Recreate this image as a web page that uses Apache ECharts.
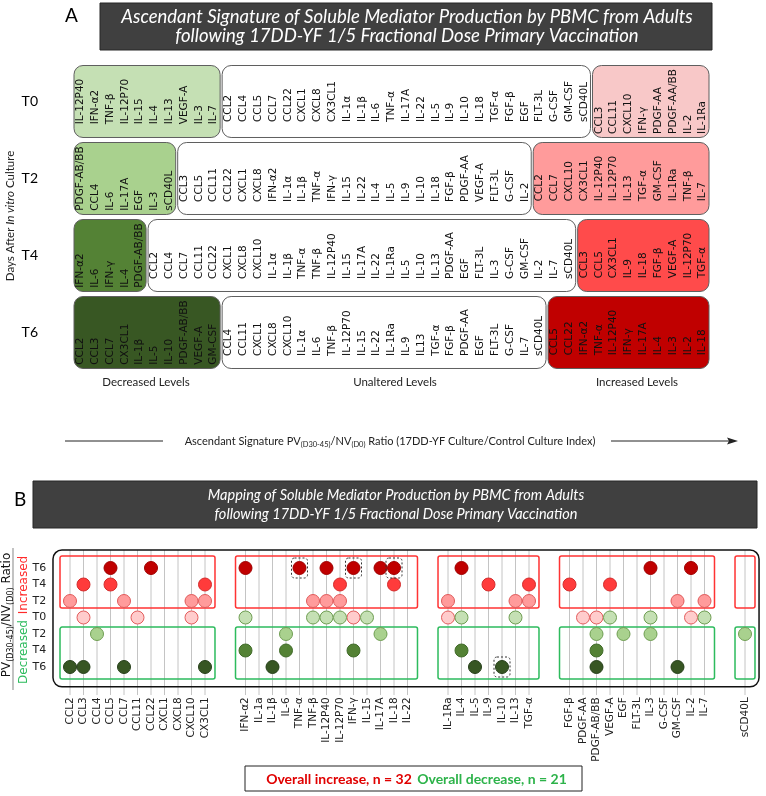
<!DOCTYPE html>
<html><head><meta charset="utf-8">
<script src="https://cdn.jsdelivr.net/npm/echarts@6/dist/echarts.min.js"></script>
<style>html,body{margin:0;padding:0;background:#fff}#c{width:766px;height:796px}</style>
</head><body><div id="c"></div>
<script>
// ---------------- Panel A data ----------------
const rowsA = ['T0', 'T2', 'T4', 'T6'];
const t0Decreased = ['IL-12P40','IFN-α2','TNF-β','IL-12P70','IL-15','IL-4','IL-13','VEGF-A','IL-3','IL-7'];
const t0Unaltered = ['CCL2','CCL4','CCL5','CCL7','CCL22','CXCL1','CXCL8','CX3CL1','IL-1α','IL-1β','IL-6','TNF-α','IL-17A','IL-22','IL-5','IL-9','IL-10','IL-18','TGF-α','FGF-β','EGF','FLT-3L','G-CSF','GM-CSF','sCD40L'];
const t0Increased = ['CCL3','CCL11','CXCL10','IFN-γ','PDGF-AA','PDGF-AA/BB','IL-2','IL-1Ra'];
const t2Decreased = ['PDGF-AB/BB','CCL4','IL-6','IL-17A','EGF','IL-3','sCD40L'];
const t2Unaltered = ['CCL3','CCL5','CCL11','CCL22','CXCL1','CXCL8','IFN-α2','IL-1α','IL-1β','TNF-α','IFN-γ','IL-15','IL-22','IL-4','IL-5','IL-9','IL-10','IL-18','FGF-β','PDGF-AA','VEGF-A','FLT-3L','G-CSF','IL-2'];
const t2Increased = ['CCL2','CCL7','CXCL10','CX3CL1','IL-12P40','IL-12P70','IL-13','TGF-α','GM-CSF','IL-1Ra','TNF-β','IL-7'];
const t4Decreased = ['IFN-α2','IL-6','IFN-γ','IL-4','PDGF-AB/BB'];
const t4Unaltered = ['CCL2','CCL4','CCL7','CCL11','CCL22','CXCL1','CXCL8','CXCL10','IL-1α','IL-1β','TNF-α','TNF-β','IL-12P40','IL-15','IL-17A','IL-22','IL-1Ra','IL-5','IL-10','IL-13','PDGF-AA','EGF','FLT-3L','IL-3','G-CSF','GM-CSF','IL-2','IL-7','sCD40L'];
const t4Increased = ['CCL3','CCL5','CX3CL1','IL-9','IL-18','FGF-β','VEGF-A','IL-12P70','TGF-α'];
const t6Decreased = ['CCL2','CCL3','CCL7','CX3CL1','IL-1β','IL-5','IL-10','PDGF-AB/BB','VEGF-A','GM-CSF'];
const t6Unaltered = ['CCL4','CCL11','CXCL1','CXCL8','CXCL10','IL-1α','IL-6','TNF-β','IL-12P70','IL-15','IL-22','IL-1Ra','IL-9','IL13','TGF-α','FGF-β','PDGF-AA','EGF','FLT-3L','G-CSF','IL-7','sCD40L'];
const t6Increased = ['CCL5','CCL22','IFN-α2','TNF-α','IL-12P40','IFN-γ','IL-17A','IL-4','IL-3','IL-2','IL-18'];
const levelLabels = ['Decreased Levels', 'Unaltered Levels', 'Increased Levels'];

// ---------------- Panel B data ----------------
const mediatorsB = ['CCL2','CCL3','CCL4','CCL5','CCL7','CCL11','CCL22','CXCL1','CXCL8','CXCL10','CX3CL1','_a','_b',
  'IFN-α2','IL-1a','IL-1β','IL-6','TNF-α','TNF-β','IL-12P40','IL-12P70','IFN-γ','IL-15','IL-17A','IL-18','IL-22','_c','_d',
  'IL-1Ra','IL-4','IL-5','IL-9','IL-10','IL-13','TGF-α','_e','_f',
  'FGF-β','PDGF-AA','PDGF-AB/BB','VEGF-A','EGF','FLT-3L','IL-3','G-CSF','GM-CSF','IL-2','IL-7','_g','_h',
  'sCD40L'];
const rowKeysB = ['T6i','T4i','T2i','T0','T2d','T4d','T6d'];
const incT6 = ['CCL5','CCL22','IFN-α2','TNF-α','IL-12P40','IFN-γ','IL-17A','IL-18','IL-4','IL-3','IL-2'];
const incT4 = ['CCL3','CCL5','CX3CL1','IL-12P70','IL-18','IL-9','TGF-α','FGF-β','VEGF-A'];
const incT2 = ['CCL2','CCL7','CXCL10','CX3CL1','TNF-β','IL-12P40','IL-12P70','IL-1Ra','IL-13','TGF-α','GM-CSF','IL-7'];
const incT0 = ['CCL3','CCL11','CXCL10','IFN-γ','IL-1Ra','PDGF-AA','PDGF-AB/BB','IL-2'];
const decT0 = ['IFN-α2','TNF-β','IL-12P40','IL-12P70','IL-15','IL-4','IL-13','VEGF-A','IL-3','IL-7'];
const decT2 = ['CCL4','IL-6','IL-17A','PDGF-AB/BB','EGF','IL-3','sCD40L'];
const decT4 = ['IFN-α2','IL-6','IFN-γ','IL-4','PDGF-AB/BB'];
const decT6 = ['CCL2','CCL3','CCL7','CX3CL1','IL-1β','IL-5','IL-10','PDGF-AB/BB','GM-CSF'];
const highlightedB = [['TNF-α','T6i'],['IFN-γ','T6i'],['IL-18','T6i'],['IL-10','T6d']];
const groupsB = [['CCL2','CX3CL1'],['IFN-α2','IL-22'],['IL-1Ra','TGF-α'],['FGF-β','IL-7'],['sCD40L','sCD40L']];
const overallIncrease = 32, overallDecrease = 21;

// ---------------- build ----------------
const decFill = ['#c5e0b4','#a9d18e','#548235','#385723'];
const incFill = ['#f8c8c8','#ff9b9b','#ff4b4b','#c00000'];
const rowsLists = [[t0Decreased,t0Unaltered,t0Increased],[t2Decreased,t2Unaltered,t2Increased],
                   [t4Decreased,t4Unaltered,t4Increased],[t6Decreased,t6Unaltered,t6Increased]];
const boxesA = [];
rowsLists.forEach((lists, r) => {
  let s = 0;
  lists.forEach((lab, k) => {
    boxesA.push({row: r, start: s, end: s + lab.length - 1, labels: lab,
      fill: k === 0 ? decFill[r] : (k === 1 ? '#ffffff' : incFill[r])});
    s += lab.length;
  });
});
const FONT_A = '10.5px "DejaVu Sans"';
const mctx = document.createElement('canvas').getContext('2d');
function textW(t, f) { mctx.font = f; return mctx.measureText(t).width; }

function renderBoxA(params, api) {
  const b = boxesA[params.dataIndex];
  const pL = api.coord([b.start - 0.5, b.row]);
  const pR = api.coord([b.end + 0.5, b.row]);
  const h = api.size([0, 1])[1] * 0.935;
  const x = pL[0] + 1, w = pR[0] - pL[0] - 2, y = pL[1] - h / 2;
  const ch = [{type: 'rect', shape: {x, y, width: w, height: h, r: 9},
    style: {fill: b.fill, stroke: '#5f5f5f', lineWidth: 1}}];
  const maxLen = Math.max.apply(null, b.labels.map(t => textW(t, FONT_A)));
  const baseY = pL[1] + maxLen / 2;
  b.labels.forEach((t, i) => {
    const p = api.coord([b.start + i, b.row]);
    ch.push({type: 'text', x: p[0], y: baseY, rotation: Math.PI / 2,
      style: {text: t, fill: '#111', font: FONT_A, align: 'left', verticalAlign: 'middle'}});
  });
  return {type: 'group', children: ch};
}

const idxB = n => mediatorsB.indexOf(n);
const dotStyles = [
  {list: incT6, row: 'T6i', fill: '#c00000', stroke: '#a00000'},
  {list: incT4, row: 'T4i', fill: '#ff3b3b', stroke: '#d42a2a'},
  {list: incT2, row: 'T2i', fill: '#ff9b9b', stroke: '#e05a5a'},
  {list: incT0, row: 'T0', fill: '#ffcccc', stroke: '#e35d5d'},
  {list: decT0, row: 'T0', fill: '#c5e0b4', stroke: '#6f9e52'},
  {list: decT2, row: 'T2d', fill: '#a9d18e', stroke: '#6f9e52'},
  {list: decT4, row: 'T4d', fill: '#548235', stroke: '#3f6a27'},
  {list: decT6, row: 'T6d', fill: '#375623', stroke: '#26401a'}
];
const scatterSeries = dotStyles.map(d => ({
  type: 'scatter', xAxisIndex: 1, yAxisIndex: 1, symbolSize: 13, z: 5,
  itemStyle: {color: d.fill, borderColor: d.stroke, borderWidth: 1, opacity: 1},
  data: d.list.map(n => [idxB(n), rowKeysB.indexOf(d.row)])
}));

const realIdx = mediatorsB.map((n, i) => i).filter(i => mediatorsB[i][0] !== '_');

const option = {
  animation: false,
  backgroundColor: '#fff',
  grid: [
    {left: 73, right: 56, top: 63, bottom: 425},
    {left: 63.25, right: 14.25, top: 559.75, bottom: 120.75}
  ],
  xAxis: [
    {gridIndex: 0, type: 'value', min: -0.5, max: 42.5, show: false},
    {gridIndex: 1, type: 'category', data: mediatorsB,
     axisLine: {show: false}, axisTick: {show: false}, splitLine: {show: false},
     axisLabel: {interval: 0, rotate: 90, margin: 22, fontSize: 10.5, fontFamily: 'DejaVu Sans', color: '#222',
       formatter: v => v[0] === '_' ? '' : v}}
  ],
  yAxis: [
    {gridIndex: 0, type: 'category', data: rowsA, inverse: true,
     axisLine: {show: false}, axisTick: {show: false}, splitLine: {show: false},
     axisLabel: {margin: 35, fontSize: 14, fontFamily: 'Lato', color: '#000'}},
    {gridIndex: 1, type: 'category', data: rowKeysB, inverse: true,
     axisLine: {show: false}, axisTick: {show: false}, splitLine: {show: false},
     axisLabel: {margin: 17, fontSize: 11, fontFamily: 'DejaVu Sans', color: '#222', formatter: v => v.slice(0, 2)}}
  ],
  series: [
    {type: 'custom', xAxisIndex: 0, yAxisIndex: 0, z: 2,
     data: boxesA.map(b => [b.start, b.row]), renderItem: renderBoxA},
    {type: 'custom', xAxisIndex: 1, yAxisIndex: 1, z: 1,
     data: realIdx.map(i => [i, 0]),
     renderItem: (params, api) => {
       const p = api.coord([api.value(0), 0]);
       const q = api.coord([api.value(0), 6]);
       const bh = api.size([1, 1])[1];
       return {type: 'line', shape: {x1: p[0], y1: p[1] - 1.09 * bh, x2: p[0], y2: q[1] + 1.7 * bh},
         style: {stroke: '#c4c4c4', lineWidth: 1}};
     }},
    {type: 'custom', xAxisIndex: 1, yAxisIndex: 1, z: 3,
     data: [[0, 0]],
     renderItem: (params, api) => {
       const p = api.coord([0, 0]);
       const q = api.coord([mediatorsB.length - 1, 6]);
       const s = api.size([1, 1]);
       const x0 = p[0] - 1.26 * s[0], x1 = q[0] + 1.04 * s[0];
       const y0 = p[1] - 1.09 * s[1], y1 = q[1] + 1.2 * s[1];
       return {type: 'rect', shape: {x: x0, y: y0, width: x1 - x0, height: y1 - y0, r: 9},
         style: {fill: 'none', stroke: '#111', lineWidth: 1.5}};
     }},
    {type: 'custom', xAxisIndex: 1, yAxisIndex: 1, z: 4,
     data: groupsB.map(g => [idxB(g[0]), idxB(g[1])]),
     renderItem: (params, api) => {
       const g = groupsB[params.dataIndex];
       const s = api.size([1, 1]);
       const a0 = api.coord([idxB(g[0]), 0]), a2 = api.coord([idxB(g[1]), 2]);
       const b4 = api.coord([idxB(g[0]), 4]), b6 = api.coord([idxB(g[1]), 6]);
       const xl = a0[0] - 0.74 * s[0], xr = a2[0] + 0.74 * s[0];
       return {type: 'group', children: [
         {type: 'rect', shape: {x: xl, y: a0[1] - 0.73 * s[1], width: xr - xl, height: (a2[1] + 0.42 * s[1]) - (a0[1] - 0.73 * s[1]), r: 2},
          style: {fill: 'none', stroke: '#ff3333', lineWidth: 1.5}},
         {type: 'rect', shape: {x: xl, y: b4[1] - 0.42 * s[1], width: xr - xl, height: (b6[1] + 0.73 * s[1]) - (b4[1] - 0.42 * s[1]), r: 2},
          style: {fill: 'none', stroke: '#2dbb5d', lineWidth: 1.5}}
       ]};
     }},
    ...scatterSeries,
    {type: 'custom', xAxisIndex: 1, yAxisIndex: 1, z: 6,
     data: highlightedB.map(h => [idxB(h[0]), rowKeysB.indexOf(h[1])]),
     renderItem: (params, api) => {
       const p = api.coord([api.value(0), api.value(1)]);
       return {type: 'rect', shape: {x: p[0] - 8, y: p[1] - 10, width: 16, height: 20, r: 3},
         style: {fill: 'none', stroke: '#333', lineWidth: 1, lineDash: [2, 2]}};
     }}
  ],
  graphic: [
    {type: 'text', left: 65, top: 6, style: {text: 'A', fontSize: 19, fontFamily: 'Lato', fill: '#000'}},
    {type: 'rect', shape: {x: 100, y: 3, width: 612, height: 47}, style: {fill: '#404040', stroke: '#262626', lineWidth: 1}},
    {type: 'text', x: 407, y: 17, style: {text: 'Ascendant Signature of Soluble Mediator Production by PBMC from Adults', fontSize: 18.5, fontStyle: 'italic', fontFamily: 'Lato', fill: '#fff', align: 'center', verticalAlign: 'middle'}},
    {type: 'text', x: 407, y: 36, style: {text: 'following 17DD-YF 1/5 Fractional Dose Primary Vaccination', fontSize: 18.5, fontStyle: 'italic', fontFamily: 'Lato', fill: '#fff', align: 'center', verticalAlign: 'middle'}},
    {type: 'text', x: 10, y: 216, rotation: Math.PI / 2, style: {text: 'Days After {i|In vitro} Culture', fontSize: 11.5, fontFamily: 'Lato', fill: '#222', align: 'center', verticalAlign: 'middle', rich: {i: {fontSize: 11.5, fontFamily: 'Lato', fontStyle: 'italic', fill: '#222'}}}},
    {type: 'text', x: 146, y: 382, style: {text: levelLabels[0], fontSize: 11.5, fontFamily: 'Lato', fill: '#222', align: 'center', verticalAlign: 'middle'}},
    {type: 'text', x: 395, y: 382, style: {text: levelLabels[1], fontSize: 11.5, fontFamily: 'Lato', fill: '#222', align: 'center', verticalAlign: 'middle'}},
    {type: 'text', x: 637, y: 382, style: {text: levelLabels[2], fontSize: 11.5, fontFamily: 'Lato', fill: '#222', align: 'center', verticalAlign: 'middle'}},
    {type: 'line', shape: {x1: 65, y1: 441, x2: 163, y2: 441}, style: {stroke: '#222', lineWidth: 1}},
    {type: 'line', shape: {x1: 611, y1: 441, x2: 730, y2: 441}, style: {stroke: '#222', lineWidth: 1}},
    {type: 'polygon', shape: {points: [[738, 441], [727, 437.5], [729, 441], [727, 444.5]]}, style: {fill: '#222'}},
    {type: 'text', x: 390, y: 441, style: {text: 'Ascendant Signature PV{s|(D30-45)}/NV{s|(D0)} Ratio (17DD-YF Culture/Control Culture Index)', fontSize: 11, lineHeight: 16, fontFamily: 'Lato', fill: '#222', align: 'center', verticalAlign: 'middle',
      rich: {s: {fontSize: 7.5, lineHeight: 9, verticalAlign: 'bottom', fontFamily: 'Lato', fill: '#222'}}}},
    {type: 'text', left: 14, top: 490, style: {text: 'B', fontSize: 19, fontFamily: 'Lato', fill: '#000'}},
    {type: 'rect', shape: {x: 33, y: 481, width: 724, height: 47}, style: {fill: '#404040', stroke: '#262626', lineWidth: 1}},
    {type: 'text', x: 396, y: 495, style: {text: 'Mapping of Soluble Mediator Production by PBMC from Adults', fontSize: 14.5, fontStyle: 'italic', fontFamily: 'Lato', fill: '#fff', align: 'center', verticalAlign: 'middle'}},
    {type: 'text', x: 396, y: 514, style: {text: 'following 17DD-YF 1/5 Fractional Dose Primary Vaccination', fontSize: 14.5, fontStyle: 'italic', fontFamily: 'Lato', fill: '#fff', align: 'center', verticalAlign: 'middle'}},
    {type: 'line', shape: {x1: 13, y1: 548, x2: 13, y2: 690}, style: {stroke: '#9a9a9a', lineWidth: 1.2}},
    {type: 'text', x: 7, y: 615, rotation: Math.PI / 2, style: {text: 'PV{s|(D30-45)}/NV{s|(D0)} Ratio', fontSize: 12, lineHeight: 16, fontFamily: 'DejaVu Sans', fill: '#111', align: 'center', verticalAlign: 'middle',
      rich: {s: {fontSize: 8, lineHeight: 9, verticalAlign: 'bottom', fontFamily: 'DejaVu Sans', fill: '#111'}}}},
    {type: 'text', x: 24, y: 585, rotation: Math.PI / 2, style: {text: 'Increased', fontSize: 12, fontFamily: 'DejaVu Sans', fill: '#ff2a2a', align: 'center', verticalAlign: 'middle'}},
    {type: 'text', x: 24, y: 652, rotation: Math.PI / 2, style: {text: 'Decreased', fontSize: 12, fontFamily: 'DejaVu Sans', fill: '#2dbb5d', align: 'center', verticalAlign: 'middle'}},
    {type: 'rect', shape: {x: 245, y: 766, width: 337, height: 25}, style: {fill: '#fff', stroke: '#222', lineWidth: 1}},
    {type: 'text', x: 339, y: 779, style: {text: 'Overall increase, n = ' + overallIncrease, fontSize: 14, fontWeight: 'bold', fontFamily: 'Lato', fill: '#e00000', align: 'center', verticalAlign: 'middle'}},
    {type: 'text', x: 492, y: 779, style: {text: 'Overall decrease, n = ' + overallDecrease, fontSize: 14, fontWeight: 'bold', fontFamily: 'Lato', fill: '#2db34a', align: 'center', verticalAlign: 'middle'}}
  ]
};
const chart = echarts.init(document.getElementById('c'));
chart.setOption(option);
</script>
</body></html>
